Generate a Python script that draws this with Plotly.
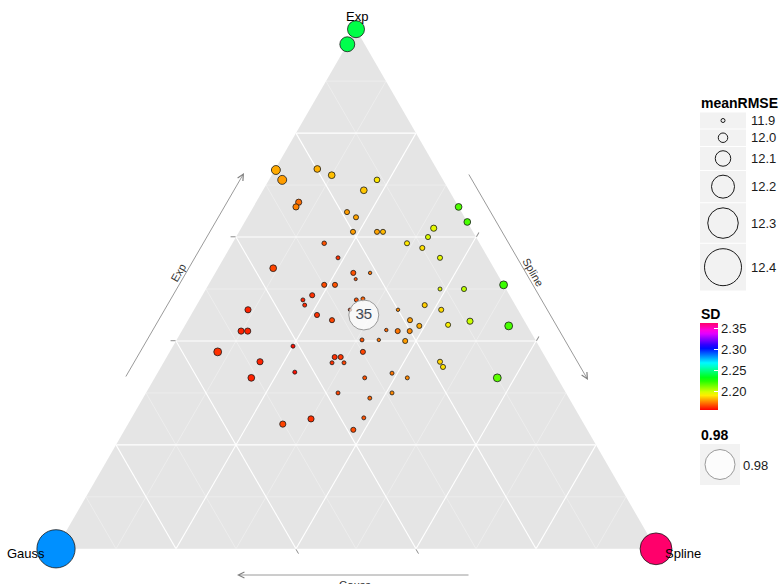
import colorsys
import numpy as np
import plotly.graph_objects as go

# ---------------- data ----------------
exp_share = [1.000, 0.971, 0.000, 0.000,
             0.729, 0.710, 0.731, 0.719, 0.710, 0.690, 0.667, 0.658, 0.648, 0.638,
             0.610, 0.610, 0.610, 0.588, 0.560, 0.540, 0.531, 0.519, 0.531, 0.508,
             0.508, 0.488, 0.479, 0.469, 0.479, 0.481, 0.460, 0.450, 0.450, 0.440,
             0.460, 0.469, 0.440, 0.429, 0.421, 0.419, 0.419, 0.402, 0.402, 0.400,
             0.379, 0.369, 0.369, 0.358, 0.358, 0.460, 0.419, 0.419, 0.379, 0.390,
             0.360, 0.329, 0.340, 0.329, 0.300, 0.290, 0.338, 0.300, 0.329, 0.252,
             0.229, 0.250, 0.240, 0.658, 0.629, 0.617, 0.600, 0.588, 0.579, 0.560,
             0.508, 0.500, 0.500, 0.460, 0.431, 0.438, 0.429, 0.360, 0.350, 0.329]
spline_share = [0.000, 0.000, 0.000, 1.000,
                0.002, 0.022, 0.070, 0.100, 0.180, 0.168, 0.071, 0.071, 0.161, 0.181,
                0.190, 0.230, 0.240, 0.153, 0.190, 0.092, 0.230, 0.240, 0.258, 0.193,
                0.211, 0.183, 0.172, 0.180, 0.261, 0.271, 0.260, 0.288, 0.210, 0.240,
                0.340, 0.380, 0.370, 0.391, 0.340, 0.360, 0.380, 0.309, 0.337, 0.382,
                0.322, 0.280, 0.290, 0.281, 0.301, 0.090, 0.099, 0.110, 0.080, 0.200,
                0.160, 0.161, 0.228, 0.350, 0.320, 0.378, 0.391, 0.410, 0.421, 0.387,
                0.381, 0.300, 0.258, 0.342, 0.371, 0.321, 0.320, 0.291, 0.321, 0.360,
                0.492, 0.390, 0.430, 0.412, 0.438, 0.471, 0.540, 0.460, 0.470, 0.571]
gauss_share = [0.000, 0.029, 1.000, 0.000,
               0.269, 0.268, 0.199, 0.181, 0.110, 0.142, 0.262, 0.271, 0.191, 0.181,
               0.200, 0.160, 0.150, 0.259, 0.250, 0.368, 0.239, 0.241, 0.211, 0.299,
               0.281, 0.329, 0.349, 0.351, 0.260, 0.248, 0.280, 0.262, 0.340, 0.320,
               0.200, 0.151, 0.190, 0.180, 0.239, 0.221, 0.201, 0.289, 0.261, 0.218,
               0.299, 0.351, 0.341, 0.361, 0.341, 0.450, 0.482, 0.471, 0.541, 0.410,
               0.480, 0.510, 0.432, 0.321, 0.380, 0.332, 0.271, 0.290, 0.250, 0.361,
               0.390, 0.450, 0.502, 0.000, 0.000, 0.062, 0.080, 0.121, 0.100, 0.080,
               0.000, 0.110, 0.070, 0.128, 0.131, 0.091, 0.031, 0.180, 0.180, 0.100]
mean_rmse = [12.12, 12.09, 12.42, 12.32,
             11.99, 11.99, 11.95, 11.95, 11.93, 11.95, 11.94, 11.94, 11.92, 11.92,
             11.92, 11.92, 11.92, 11.91, 11.90, 11.95, 11.92, 11.87, 11.88, 11.92,
             11.92, 11.92, 11.90, 11.90, 11.90, 11.90, 11.88, 11.90, 11.92, 11.92,
             11.88, 11.92, 11.92, 11.92, 11.88, 11.92, 11.92, 11.90, 11.88, 11.92,
             11.92, 11.92, 11.92, 11.90, 11.90, 11.94, 11.94, 11.94, 11.97, 11.90,
             11.94, 11.95, 11.90, 11.90, 11.90, 11.90, 11.90, 11.90, 11.90, 11.90,
             11.92, 11.94, 11.94, 11.95, 11.95, 11.94, 11.92, 11.92, 11.92, 11.92,
             11.97, 11.90, 11.92, 11.92, 11.92, 11.94, 11.97, 11.92, 11.92, 11.97]
sd_values = [2.241, 2.242, 2.284, 2.364,
             2.181, 2.179, 2.182, 2.184, 2.190, 2.185, 2.172, 2.175, 2.179, 2.180,
             2.179, 2.180, 2.183, 2.168, 2.163, 2.166, 2.168, 2.168, 2.173, 2.167,
             2.168, 2.163, 2.161, 2.162, 2.168, 2.170, 2.165, 2.168, 2.163, 2.166,
             2.176, 2.186, 2.179, 2.181, 2.171, 2.173, 2.176, 2.168, 2.173, 2.179,
             2.166, 2.163, 2.164, 2.163, 2.166, 2.161, 2.161, 2.161, 2.163, 2.158,
             2.161, 2.161, 2.158, 2.168, 2.166, 2.171, 2.173, 2.176, 2.176, 2.168,
             2.167, 2.163, 2.166, 2.219, 2.220, 2.196, 2.198, 2.190, 2.189, 2.196,
             2.222, 2.197, 2.203, 2.188, 2.192, 2.201, 2.220, 2.187, 2.189, 2.217]

highlight_exp = [0.450]
highlight_gauss = [0.262]
highlight_spline = [0.288]
highlight_label = ["35"]
highlight_value = "0.98"

vertex_names = ["Exp", "Gauss", "Spline"]
size_levels = [11.9, 12.0, 12.1, 12.2, 12.3, 12.4]
size_labels = ["11.9", "12.0", "12.1", "12.2", "12.3", "12.4"]
sd_ticks = [2.20, 2.25, 2.30, 2.35]
sd_range = [2.156, 2.364]
major_grid = [0.2, 0.4, 0.6, 0.8]
minor_grid = [0.1, 0.3, 0.5, 0.7, 0.9]
tick_vals = [0.4, 0.6]

# ---------------- styling helpers ----------------
W, H = 780, 584
OFF = 0
FONT = "Liberation Sans, Arial, sans-serif"
size_px_levels = [4, 9.5, 15.5, 23, 30.5, 37]


def rmse_to_px(v):
    return np.interp(v, [11.85] + size_levels + [12.45], [2.6] + size_px_levels + [40])


colorscale = []
for i in range(25):
    t = i / 24
    r, g, b = colorsys.hsv_to_rgb(0.93 * t, 1, 1)
    colorscale.append([t, f"rgb({int(r*255)},{int(g*255)},{int(b*255)})"])


def grid_coords(vals):
    A, B, C = [], [], []
    for v in vals:
        A += [v, v, None];        B += [1 - v, 0, None];    C += [0, 1 - v, None]
        A += [1 - v, 0, None];    B += [v, v, None];        C += [0, 1 - v, None]
        A += [1 - v, 0, None];    B += [0, 1 - v, None];    C += [v, v, None]
    return A, B, C


def px_x(x):
    return (x - OFF) / W


def px_y(y):
    return 1 - (y - OFF) / H


fig = go.Figure()

ma, mb, mc = grid_coords(minor_grid)
fig.add_trace(go.Scatterternary(a=ma, b=mb, c=mc, mode="lines",
                                line=dict(color="rgba(255,255,255,0.55)", width=0.6),
                                hoverinfo="skip", showlegend=False))
Ma, Mb, Mc = grid_coords(major_grid)
fig.add_trace(go.Scatterternary(a=Ma, b=Mb, c=Mc, mode="lines",
                                line=dict(color="white", width=1.1),
                                hoverinfo="skip", showlegend=False))

fig.add_trace(go.Scatterternary(
    a=exp_share, b=gauss_share, c=spline_share, mode="markers",
    cliponaxis=False, showlegend=False,
    marker=dict(size=rmse_to_px(np.array(mean_rmse)), color=sd_values, opacity=1,
                colorscale=colorscale, cmin=sd_range[0], cmax=sd_range[1],
                line=dict(color="#1a1a1a", width=0.8),
                colorbar=dict(x=px_x(700), xanchor="left", xpad=0,
                              y=px_y(323), yanchor="top", ypad=0,
                              len=87, lenmode="pixels", thickness=18,
                              outlinewidth=0, tickvals=sd_ticks, tickformat=".2f",
                              ticks="inside", ticklen=4, tickcolor="white",
                              tickfont=dict(family=FONT, size=13, color="#1a1a1a"),
                              title=dict(text=""))),
))

HL_SIZE = 30
fig.add_trace(go.Scatterternary(
    a=highlight_exp, b=highlight_gauss, c=highlight_spline, mode="markers+text",
    text=highlight_label, textposition="middle center", cliponaxis=False,
    textfont=dict(family=FONT, size=15, color="#3f4a57"),
    marker=dict(size=HL_SIZE, color="rgba(255,255,255,0.72)", opacity=1,
                line=dict(color="#9a9a9a", width=1)),
    showlegend=False, hoverinfo="skip"))

# ---------------- legends (pixel-unit helper axes) ----------------
shapes = []
annotations = []
key_sizes = [float(rmse_to_px(v)) for v in size_levels]
y_top = 112
centers = []
for d in key_sizes:
    h = max(17.0, d * 1.1 + 7)
    shapes.append(dict(type="rect", xref="x", yref="y", x0=700, x1=746,
                       y0=y_top + 0.5, y1=y_top + h - 0.5,
                       fillcolor="#F2F2F2", line=dict(width=0), layer="below"))
    centers.append(y_top + h / 2)
    y_top += h
fig.add_trace(go.Scatter(x=[723] * len(size_levels), y=centers, mode="markers",
                         xaxis="x", yaxis="y", showlegend=False, hoverinfo="skip",
                         marker=dict(size=key_sizes, color="rgba(0,0,0,0)", opacity=1,
                                     line=dict(color="#1a1a1a", width=1))))
for c, lab in zip(centers, size_labels):
    annotations.append(dict(xref="x", yref="y", x=749, y=c, text=lab, showarrow=False,
                            xanchor="left", yanchor="middle",
                            font=dict(family=FONT, size=13, color="#1a1a1a")))

shapes.append(dict(type="rect", xref="x", yref="y", x0=700, x1=740, y0=444, y1=485,
                   fillcolor="#F2F2F2", line=dict(width=0), layer="below"))
fig.add_trace(go.Scatter(x=[720], y=[464.5], mode="markers", xaxis="x", yaxis="y",
                         showlegend=False, hoverinfo="skip",
                         marker=dict(size=HL_SIZE, color="rgba(255,255,255,0.72)",
                                     opacity=1, line=dict(color="#9a9a9a", width=1))))
annotations.append(dict(xref="x", yref="y", x=741, y=465, text=highlight_value,
                        showarrow=False, xanchor="left", yanchor="middle",
                        font=dict(family=FONT, size=13, color="#1a1a1a")))

for txt, yy in [("meanRMSE", 103), ("SD", 314), (highlight_value, 435)]:
    annotations.append(dict(xref="paper", yref="paper", x=px_x(699), y=px_y(yy),
                            text=f"<b>{txt}</b>", showarrow=False, xanchor="left",
                            yanchor="middle",
                            font=dict(family=FONT, size=14, color="#000000")))

# vertex labels
for txt, xx, yy in [(vertex_names[0], 357, 17), (vertex_names[1], 26, 553),
                    (vertex_names[2], 683, 553)]:
    annotations.append(dict(xref="paper", yref="paper", x=px_x(xx), y=px_y(yy),
                            text=txt, showarrow=False, xanchor="center",
                            yanchor="middle",
                            font=dict(family=FONT, size=13, color="#000000")))

# edge arrows
for hx, hy, ax, ay in [(244, 173, -119, 205), (588, 380, -120, -207), (237, 575, 233, 0)]:
    annotations.append(dict(xref="paper", yref="paper", x=px_x(hx), y=px_y(hy),
                            ax=ax, ay=ay, axref="pixel", ayref="pixel", text="",
                            showarrow=True, arrowhead=5, arrowsize=1.5,
                            arrowwidth=0.8, arrowcolor="#808080", standoff=0))
for txt, xx, yy, ang in [(vertex_names[0], 178, 273, -60), (vertex_names[2], 533, 272, 60),
                         (vertex_names[1], 355, 585, 0)]:
    annotations.append(dict(xref="paper", yref="paper", x=px_x(xx), y=px_y(yy),
                            text=txt, showarrow=False, textangle=ang,
                            xanchor="center", yanchor="middle",
                            font=dict(family=FONT, size=11, color="#333333")))

axis_common = dict(title=dict(text=""), showgrid=False, showline=False,
                   showticklabels=False, ticks="outside", ticklen=5,
                   tickcolor="#8C8C8C", tickwidth=1, tickmode="array",
                   tickvals=tick_vals)

fig.update_layout(
    width=W, height=H, margin=dict(l=0, r=0, t=0, b=0, pad=0, autoexpand=False),
    paper_bgcolor="white", plot_bgcolor="white",
    font=dict(family=FONT),
    ternary=dict(domain=dict(x=[px_x(56), px_x(656)], y=[px_y(549), px_y(29)]),
                 bgcolor="#E5E5E5", sum=1,
                 aaxis=axis_common, baxis=axis_common, caxis=axis_common),
    xaxis=dict(domain=[px_x(695), px_x(780)], range=[695, 780], visible=False,
               fixedrange=True),
    yaxis=dict(domain=[px_y(500), px_y(95)], range=[500, 95], visible=False,
               fixedrange=True),
    shapes=shapes, annotations=annotations,
)

fig.write_html(
    "out.html",
    config={"displayModeBar": False},
    post_script="document.body.style.margin='0';document.body.style.overflow='hidden';",
)
